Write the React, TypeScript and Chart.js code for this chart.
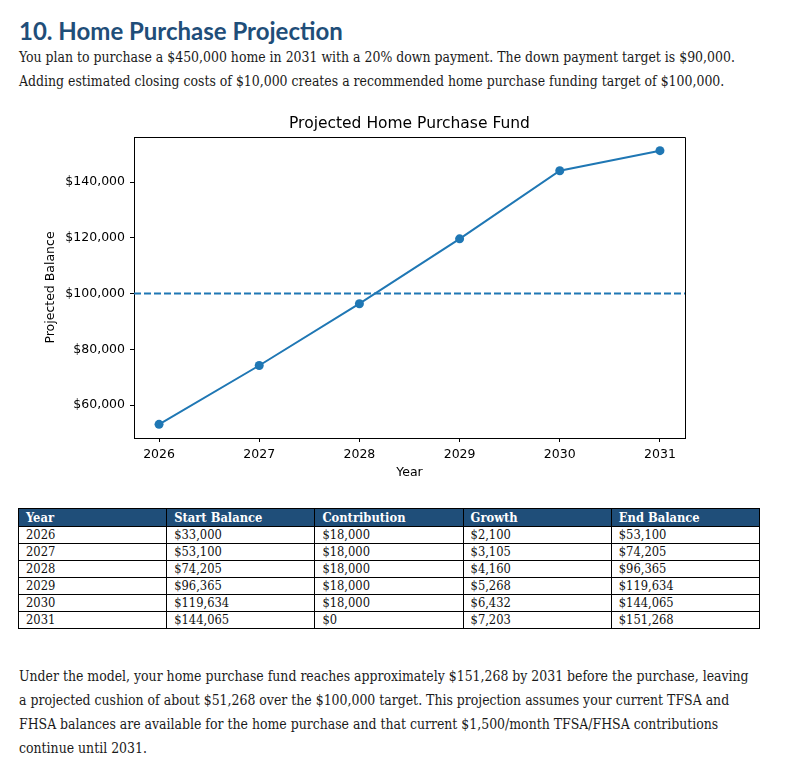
import React, { useEffect, useRef } from "react";
import { Chart, registerables } from "chart.js";

Chart.register(...registerables);

// Projection data, one entry per year
const YEARS = [2026, 2027, 2028, 2029, 2030, 2031];
const START_BALANCE = [33000, 53100, 74205, 96365, 119634, 144065];
const CONTRIBUTION = [18000, 18000, 18000, 18000, 18000, 0];
const GROWTH = [2100, 3105, 4160, 5268, 6432, 7203];
const END_BALANCE = [53100, 74205, 96365, 119634, 144065, 151268];
const TARGET = 100000;
const Y_TICKS = [60000, 80000, 100000, 120000, 140000];
const TABLE_HEADERS = ["Year", "Start Balance", "Contribution", "Growth", "End Balance"];

const BLUE = "#1f77b4";
const NAVY = "#1f4e79";
const SANS = "'DejaVu Sans', sans-serif";
const SERIF = "'DejaVu Serif Condensed', 'DejaVu Serif', serif";

const money = (v: number) => "$" + v.toLocaleString("en-US");

// 5% auto-margins around the data on both axes
const xPad = (YEARS[YEARS.length - 1] - YEARS[0]) * 0.05;
const X_MIN = YEARS[0] - xPad;
const X_MAX = YEARS[YEARS.length - 1] + xPad;
const yLo = Math.min(...END_BALANCE);
const yHi = Math.max(...END_BALANCE);
const yPad = (yHi - yLo) * 0.05;
const Y_MIN = yLo - yPad;
const Y_MAX = yHi + yPad;

// Draws the top and right sides of the plot frame
const framePlugin = {
  id: "frame",
  afterDatasetsDraw(chart: any) {
    const { ctx, chartArea } = chart;
    const { left, right, top, bottom } = chartArea;
    ctx.save();
    ctx.strokeStyle = "#000";
    ctx.lineWidth = 1;
    ctx.beginPath();
    ctx.moveTo(Math.round(left) + 0.5, Math.round(top) + 0.5);
    ctx.lineTo(Math.round(right) + 0.5, Math.round(top) + 0.5);
    ctx.lineTo(Math.round(right) + 0.5, Math.round(bottom) + 0.5);
    ctx.stroke();
    ctx.restore();
  },
};

function FundChart() {
  const ref = useRef<HTMLCanvasElement | null>(null);

  useEffect(() => {
    if (!ref.current) return;
    const tickFont = { family: SANS, size: 12.5 };
    const chart = new Chart(ref.current, {
      type: "line",
      data: {
        datasets: [
          {
            label: "Target",
            data: [
              { x: X_MIN, y: TARGET },
              { x: X_MAX, y: TARGET },
            ],
            borderColor: BLUE,
            borderWidth: 2,
            borderDash: [7, 3],
            pointRadius: 0,
            order: 2,
          },
          {
            label: "End Balance",
            data: YEARS.map((yr, i) => ({ x: yr, y: END_BALANCE[i] })),
            borderColor: BLUE,
            backgroundColor: BLUE,
            borderWidth: 2,
            pointRadius: 4.5,
            pointBorderWidth: 0,
            pointBackgroundColor: BLUE,
            order: 1,
          },
        ],
      },
      options: {
        responsive: false,
        animation: false,
        layout: { padding: { left: 0, right: 15, top: 0, bottom: 0 } },
        plugins: {
          legend: { display: false },
          tooltip: { enabled: false },
          title: {
            display: true,
            fullSize: false,
            text: "Projected Home Purchase Fund",
            color: "#000",
            font: { family: SANS, size: 15.5, weight: "normal" },
            padding: { top: 9, bottom: 3.4 },
          },
        },
        scales: {
          x: {
            type: "linear",
            min: X_MIN,
            max: X_MAX,
            afterBuildTicks: (s: any) => {
              s.ticks = YEARS.map((v) => ({ value: v }));
            },
            afterFit: (s: any) => {
              s.height = 48;
            },
            ticks: {
              autoSkip: false,
              maxRotation: 0,
              color: "#000",
              font: tickFont,
              padding: 5,
              callback: (v: any) => String(v),
            },
            grid: { drawOnChartArea: false, tickLength: 4, tickColor: "#000" },
            border: { color: "#000", width: 1 },
            title: {
              display: true,
              text: "Year",
              color: "#000",
              font: tickFont,
              padding: { top: 0, bottom: 6 },
            },
          },
          y: {
            type: "linear",
            min: Y_MIN,
            max: Y_MAX,
            afterBuildTicks: (s: any) => {
              s.ticks = Y_TICKS.map((v) => ({ value: v }));
            },
            afterFit: (s: any) => {
              s.width = 114;
            },
            ticks: {
              color: "#000",
              font: tickFont,
              padding: 5,
              callback: (v: any) => money(Number(v)),
            },
            grid: { drawOnChartArea: false, tickLength: 4, tickColor: "#000" },
            border: { color: "#000", width: 1 },
            title: {
              display: true,
              text: "Projected Balance",
              color: "#000",
              font: tickFont,
              padding: { top: 23, bottom: 0 },
            },
          },
        },
      },
      plugins: [framePlugin],
    } as any);
    return () => chart.destroy();
  }, []);

  return (
    <canvas
      ref={ref}
      width={680}
      height={380}
      style={{ position: "absolute", left: 20, top: 106, width: 680, height: 380 }}
    />
  );
}

export default function App() {
  const para: React.CSSProperties = {
    position: "absolute",
    left: 19,
    margin: 0,
    fontFamily: SERIF,
    fontSize: 13.9,
    lineHeight: "24px",
    color: "#1a1a1a",
    whiteSpace: "nowrap",
  };
  const cell: React.CSSProperties = {
    border: "1px solid #000",
    padding: "0 7px",
    height: 16,
    lineHeight: "16px",
    textAlign: "left",
    fontFamily: SERIF,
    fontSize: 12.8,
    color: "#111",
    overflow: "hidden",
    whiteSpace: "nowrap",
  };
  const head: React.CSSProperties = {
    ...cell,
    height: 17,
    lineHeight: "17px",
    background: NAVY,
    color: "#fff",
    fontWeight: "bold",
  };

  return (
    <div style={{ position: "absolute", left: 0, top: 0, width: 794, height: 761, background: "#fff" }}>
      <h2
        style={{
          position: "absolute",
          left: 19,
          top: 16,
          margin: 0,
          fontFamily: "Lato, sans-serif",
          fontWeight: "bold",
          fontSize: 24,
          lineHeight: "30px",
          color: NAVY,
          whiteSpace: "nowrap",
        }}
      >
        10. Home Purchase Projection
      </h2>
      <p style={{ ...para, top: 45 }}>
        You plan to purchase a $450,000 home in 2031 with a 20% down payment. The down payment target is $90,000.
        <br />
        Adding estimated closing costs of $10,000 creates a recommended home purchase funding target of $100,000.
      </p>

      <FundChart />

      <table
        style={{
          position: "absolute",
          left: 18,
          top: 508,
          width: 742,
          borderCollapse: "collapse",
          tableLayout: "fixed",
        }}
      >
        <thead>
          <tr>
            {TABLE_HEADERS.map((h) => (
              <th key={h} style={head}>
                {h}
              </th>
            ))}
          </tr>
        </thead>
        <tbody>
          {YEARS.map((yr, i) => (
            <tr key={yr}>
              <td style={cell}>{yr}</td>
              <td style={cell}>{money(START_BALANCE[i])}</td>
              <td style={cell}>{money(CONTRIBUTION[i])}</td>
              <td style={cell}>{money(GROWTH[i])}</td>
              <td style={cell}>{money(END_BALANCE[i])}</td>
            </tr>
          ))}
        </tbody>
      </table>

      <p style={{ ...para, top: 664 }}>
        Under the model, your home purchase fund reaches approximately $151,268 by 2031 before the purchase, leaving
        <br />
        a projected cushion of about $51,268 over the $100,000 target. This projection assumes your current TFSA and
        <br />
        FHSA balances are available for the home purchase and that current $1,500/month TFSA/FHSA contributions
        <br />
        continue until 2031.
      </p>
    </div>
  );
}
